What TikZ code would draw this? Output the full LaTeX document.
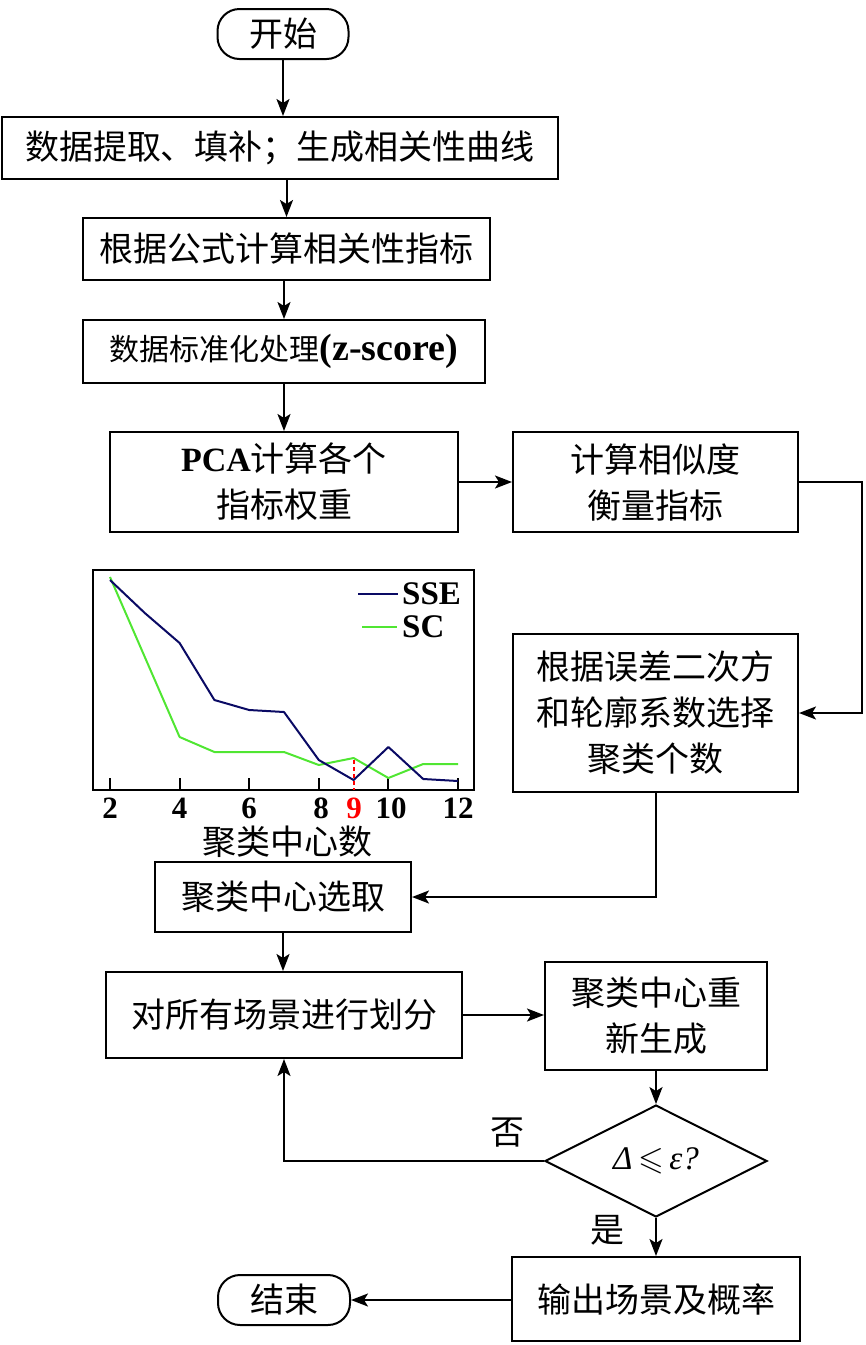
\RequirePackage{fix-cm}
\documentclass[tikz,border=0pt]{standalone}
\usepackage{amssymb}
\usepackage{fontspec}
\setmainfont{Liberation Serif}
\newfontfamily\cjk{Noto Sans CJK SC}
\usetikzlibrary{shapes.geometric,arrows.meta,calc}
\definecolor{ssecol}{RGB}{10,10,100}
\definecolor{sccol}{RGB}{80,230,50}
\begin{document}
\begin{tikzpicture}[x=1pt,y=-1pt,
  every node/.style={inner sep=0pt},
  box/.style={draw, line width=2pt, rectangle, align=center, font=\cjk\fontsize{34}{46}\selectfont},
  term/.style={box, rounded corners=22pt},
  conn/.style={line width=2pt, -{Stealth[length=17pt,width=13pt,inset=4pt]}},
  lbl/.style={font=\cjk\fontsize{34}{40}\selectfont},
  ticklbl/.style={font=\bfseries\fontsize{31}{34}\selectfont},
  curve/.style={line width=2pt, line join=round},
]
\useasboundingbox (0,0) rectangle (866,1345);

% flow nodes
\node[term, minimum width=131pt, minimum height=50pt] (start) at (283,34) {开始};
\node[box, minimum width=556pt, minimum height=62pt] (b1) at (280,148) {数据提取、填补；生成相关性曲线};
\node[box, minimum width=407pt, minimum height=62pt] (b2) at (286.5,249) {根据公式计算相关性指标};
\node[box, minimum width=402pt, minimum height=63pt] (b3) at (284,351.5) {{\fontsize{30}{36}\selectfont 数据标准化处理}{\rmfamily\bfseries\fontsize{38}{44}\selectfont (z-score)}};
\node[box, minimum width=348pt, minimum height=100pt] (b4) at (284,482) {{\rmfamily\bfseries PCA}计算各个\\指标权重};
\node[box, minimum width=285pt, minimum height=100pt] (b5) at (655.5,482) {计算相似度\\衡量指标};
\node[box, minimum width=285pt, minimum height=158pt] (b6) at (655.5,713) {根据误差二次方\\和轮廓系数选择\\聚类个数};
\node[box, minimum width=256pt, minimum height=70pt] (b7) at (283,897) {聚类中心选取};
\node[box, minimum width=356pt, minimum height=86pt] (b8) at (284,1015) {对所有场景进行划分};
\node[box, minimum width=222pt, minimum height=108pt] (b9) at (656,1016) {聚类中心重\\新生成};
\node[draw, diamond, line width=2pt, minimum width=222pt, minimum height=108pt, font=\rmfamily\fontsize{33}{36}\selectfont] (dia) at (656,1161) {{\itshape Δ}\,$\leqslant$\,{\itshape ε?}};
\node[box, minimum width=288pt, minimum height=84pt] (b10) at (656,1299) {输出场景及概率};
\node[term, minimum width=132pt, minimum height=50pt] (stop) at (284,1300) {结束};

\node[lbl] (no) at (507,1133) {否};
\node[lbl] (yes) at (607,1230) {是};

% connectors
\draw[conn] (start.south) -- (start.south |- b1.north);
\draw[conn] (b2.north |- b1.south) -- (b2.north);
\draw[conn] (b3.north |- b2.south) -- (b3.north);
\draw[conn] (b3.south) -- (b4.north);
\draw[conn] (b4.east) -- (b5.west);
\coordinate (r1) at (862,482);
\draw[conn] (b5.east) -- (r1) |- (b6.east);
\draw[conn] (b6.south) |- (b7.east);
\draw[conn] (b7.south) -- (b7.south |- b8.north);
\draw[conn] (b8.east) -- (b8.east -| b9.west);
\draw[conn] (b9.south) -- (dia.north);
\draw[conn] (dia.west) -| (b8.south);
\draw[conn] (dia.south) -- (b10.north);
\draw[conn] (b10.west |- stop.east) -- (stop.east);

% chart
\draw[line width=2pt] (93,570) rectangle (474,790);
\foreach \k in {2,4,...,12} \draw[line width=2pt] ({110+(\k-2)*34.8},778) -- ++(0,12);
\draw[sccol, curve] plot coordinates {(110,577) (144.8,657) (179.6,737) (214.4,752) (249.2,752) (284,752) (318.8,765) (353.6,758) (388.4,778) (423.2,764) (458,764)};
\draw[ssecol, curve] plot coordinates {(110,580) (144.8,613) (179.6,643) (214.4,700) (249.2,710) (284,712) (318.8,760) (353.6,780) (388.4,747) (423.2,779) (458,781)};
\draw[red, line width=2pt, dash pattern=on 4pt off 3pt] (353.6,760) -- (353.6,790);

\draw[ssecol, line width=2pt] (358,594) -- (398,594);
\node[anchor=west, font=\bfseries\fontsize{33}{36}\selectfont] (lsse) at (402,594) {SSE};
\draw[sccol, line width=2pt] (362,627) -- (397,627);
\node[anchor=west, font=\bfseries\fontsize{33}{36}\selectfont] (lsc) at (402,627) {SC};

\node[ticklbl] (t2) at (110,808) {2};
\node[ticklbl] (t4) at (179.6,808) {4};
\node[ticklbl] (t6) at (249.2,808) {6};
\node[ticklbl] (t8) at (321,808) {8};
\node[ticklbl, text=red] (t9) at (354,808) {9};
\node[ticklbl] (t10) at (391,808) {10};
\node[ticklbl] (t12) at (458,808) {12};
\node[lbl] (xl) at (287,842) {聚类中心数};
\end{tikzpicture}
\end{document}
